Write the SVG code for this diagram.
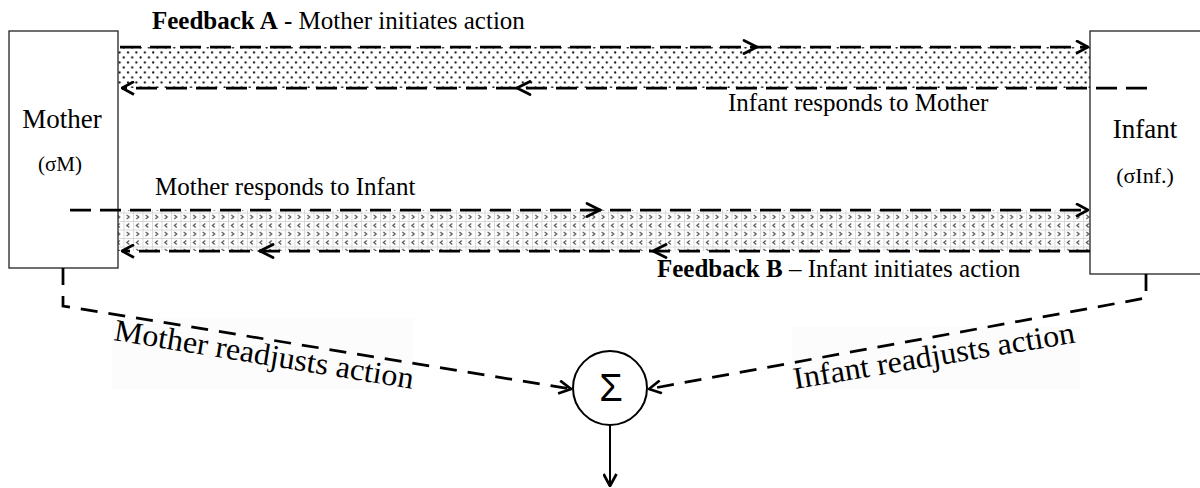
<svg xmlns="http://www.w3.org/2000/svg" width="1200" height="488" viewBox="0 0 1200 488">
<style>
.lbl{font-family:"Liberation Serif","Times New Roman",serif;fill:#000}
.dash{fill:none;stroke:#000;stroke-width:2.75;stroke-dasharray:21 9}
.dash2{fill:none;stroke:#000;stroke-width:2.75;stroke-dasharray:17 11}
.chev{fill:none;stroke:#000;stroke-width:2.8;stroke-linecap:round;stroke-linejoin:miter}
.box{fill:#fff;stroke:#222;stroke-width:1.3}
</style>
<defs>
<pattern id="dots" width="8.4" height="10" patternUnits="userSpaceOnUse">
<rect width="8.4" height="10" fill="#fff"/>
<circle cx="2" cy="2.5" r="1.15" fill="#1a1a1a"/>
<circle cx="6.2" cy="7.5" r="1.15" fill="#1a1a1a"/>
</pattern>
<pattern id="grid" width="9.5" height="17" patternUnits="userSpaceOnUse">
<rect width="9.5" height="17" fill="#fff"/>
<path d="M0.5,0 V17 M0,0.5 H9.5 M0,9 H9.5" stroke="#cfcfcf" stroke-width="0.8" fill="none"/>
<path d="M5.8,2.5 L3.3,4.5 L5.8,6.5" stroke="#444" stroke-width="1" fill="none"/>
<path d="M3.3,11 L5.8,13 L3.3,15" stroke="#444" stroke-width="1" fill="none"/>
</pattern>
<marker id="arr" viewBox="0 0 14 15" refX="13" refY="7.5" markerWidth="14" markerHeight="15" markerUnits="userSpaceOnUse" orient="auto">
<path d="M1,1 L13,7.5 L1,14" fill="none" stroke="#000" stroke-width="2.7" stroke-dasharray="none"/>
</marker>
</defs>
<rect width="1200" height="488" fill="#fff"/>

<g id="bands">
<rect x="118" y="47" width="972" height="41" fill="url(#dots)"/>
<rect x="118" y="210" width="972" height="41" fill="url(#grid)"/>
<rect x="112" y="318" width="302" height="71" fill="#fcfcfc"/>
<rect x="792" y="327" width="288" height="62" fill="#fcfcfc"/>
</g>

<g id="mother">
<rect class="box" x="9" y="31" width="109" height="237"/>
<text class="lbl" x="62" y="128" font-size="27" text-anchor="middle">Mother</text>
<text class="lbl" x="60" y="171" font-size="21" text-anchor="middle">(σM)</text>
</g>

<g id="infant">
<rect class="box" x="1090" y="31" width="116" height="243"/>
<text class="lbl" x="1145" y="138" font-size="27" text-anchor="middle">Infant</text>
<text class="lbl" x="1145" y="183" font-size="22" text-anchor="middle">(σInf.)</text>
</g>

<g id="sum">
<circle cx="610" cy="388" r="37" fill="#fff" stroke="#000" stroke-width="2"/>
<text x="611" y="401" font-family="Liberation Sans, Arial, sans-serif" font-size="38" text-anchor="middle">Σ</text>
</g>

<g id="connectors">
<path class="dash" d="M120,47 H1088" marker-end="url(#arr)"/>
<path class="chev" d="M744,40.5 L757,47 L744,53.5"/>
<path class="dash" d="M1147,88 H122" marker-end="url(#arr)"/>
<path class="chev" d="M530,81.5 L517,88 L530,94.5"/>
<path class="dash" d="M70,210 H1088" marker-end="url(#arr)"/>
<path class="chev" d="M587,203.5 L600,210 L587,216.5"/>
<path class="dash" d="M1090,251 H122" marker-end="url(#arr)"/>
<path class="chev" d="M666,244.5 L653,251 L666,257.5"/>
<path class="chev" d="M273,244.5 L260,251 L273,257.5"/>
<path class="dash2" d="M63,268 V306 L571,389" marker-end="url(#arr)"/>
<path class="dash2" d="M1146,274 V298 L649,389" marker-end="url(#arr)"/>
<path d="M610,425 V486" stroke="#000" stroke-width="2" fill="none" marker-end="url(#arr)"/>
</g>

<g id="labels">
<text class="lbl" x="152" y="29" font-size="25"><tspan font-weight="bold">Feedback A</tspan> - Mother initiates action</text>
<text class="lbl" x="728" y="111" font-size="25">Infant responds to Mother</text>
<text class="lbl" x="155" y="195" font-size="25">Mother responds to Infant</text>
<text class="lbl" x="657" y="277" font-size="25"><tspan font-weight="bold">Feedback B</tspan> – Infant initiates action</text>
<text class="lbl" font-size="31" transform="translate(113,340) rotate(9.3)" textLength="303" lengthAdjust="spacingAndGlyphs">Mother readjusts action</text>
<text class="lbl" font-size="31" transform="translate(795,389) rotate(-9.4)" textLength="285" lengthAdjust="spacingAndGlyphs">Infant readjusts action</text>
</g>
</svg>
